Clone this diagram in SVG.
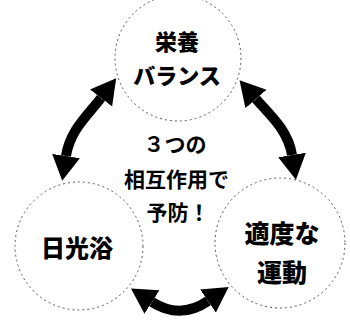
<svg xmlns="http://www.w3.org/2000/svg" width="350" height="320" viewBox="0 0 350 320">
<style>
.c{fill:none;stroke:#555;stroke-width:1;stroke-dasharray:2 3}
.lbl{font-family:"Noto Sans CJK JP","Noto Sans CJK SC",sans-serif;font-weight:900;fill:#000;text-anchor:middle}
.mid{font-family:"Noto Sans CJK JP","Noto Sans CJK SC",sans-serif;font-weight:700;fill:#000;text-anchor:middle;font-size:21px}
.ar{fill:none;stroke:#000;stroke-width:10;marker-start:url(#h);marker-end:url(#h)}
</style>
<defs>
<marker id="h" markerUnits="userSpaceOnUse" markerWidth="30" markerHeight="30" refX="0" refY="14" orient="auto-start-reverse" viewBox="0 0 30 30">
<path d="M0,0 L25,14 L0,28 z" fill="#000"/>
</marker>
</defs>
<rect width="350" height="320" fill="#fff"/>
<g id="eiyou">
<circle class="c" cx="178" cy="58" r="63"/>
<text class="lbl" x="177" y="50" font-size="22">栄養</text>
<text class="lbl" x="177" y="84" font-size="22">バランス</text>
</g>
<g id="nikkouyoku">
<circle class="c" cx="79" cy="246" r="64"/>
<text class="lbl" x="77" y="257" font-size="24">日光浴</text>
</g>
<g id="undou">
<circle class="c" cx="280" cy="243" r="65"/>
<text class="lbl" x="282" y="243" font-size="25">適度な</text>
<text class="lbl" x="282" y="282" font-size="25">運動</text>
</g>
<g id="center">
<text class="mid" x="175" y="152">３つの</text>
<text class="mid" x="176.5" y="187">相互作用で</text>
<text class="mid" x="178" y="220">予防！</text>
</g>
<g id="connectors">
<path class="ar" d="M101,98 C88,115 70,130 66,156"/>
<path class="ar" d="M256,99 C270,115 288,130 292,155"/>
<path class="ar" d="M152,302 Q180,320 208,301"/>
</g>
</svg>
